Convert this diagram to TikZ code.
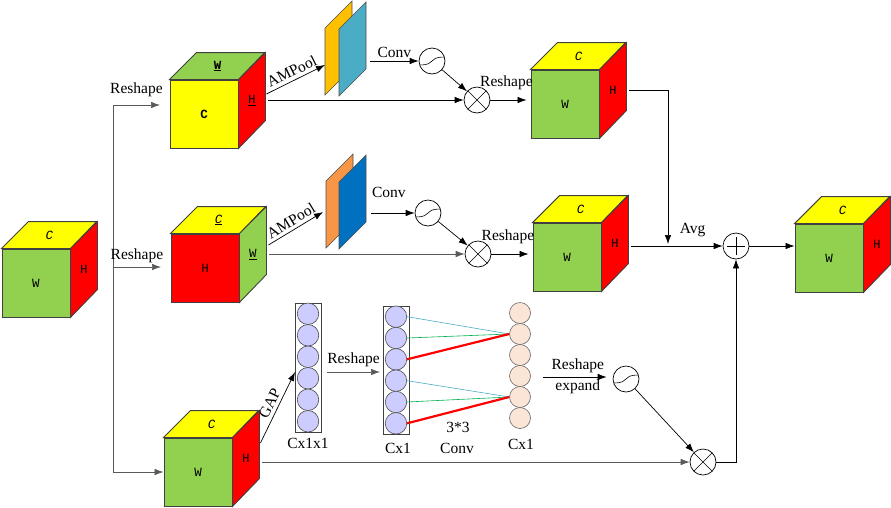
\documentclass[tikz,border=0pt]{standalone}
\usepackage{fontspec}
\setmainfont{Liberation Serif}
\newfontfamily\cubefont{Liberation Mono}
\usepackage{tikz}
\usetikzlibrary{arrows.meta}
\usepackage{xcolor}

\definecolor{cubeyellow}{HTML}{FFFF00}
\definecolor{cubered}{HTML}{FF0000}
\definecolor{cubegreen}{HTML}{92D050}
\definecolor{poolorange}{HTML}{FFC000}
\definecolor{poolteal}{HTML}{4BACC6}
\definecolor{poolpeach}{HTML}{F79646}
\definecolor{poolblue}{HTML}{0070C0}
\definecolor{cellblue}{HTML}{CCCCFF}
\definecolor{cellpeach}{HTML}{FBE5D6}
\definecolor{linkblue}{HTML}{4BACC6}
\definecolor{linkgreen}{HTML}{00B050}
\definecolor{linegray}{HTML}{595959}

\tikzset{
  face/.style={draw=black!75, line width=0.9pt},
  frontface/.style={face, minimum size=68pt, inner sep=0pt, font=\cubefont\fontsize{12.5}{12.5}\selectfont},
  cubetext/.style={font=\cubefont\fontsize{12.5}{12.5}\selectfont},
  arr/.style={-{Latex[length=9pt,width=6.5pt]}, line width=0.7pt},
  op/.style={circle, draw, line width=0.7pt, minimum size=26pt, inner sep=0pt},
  mul/.style={op, path picture={\draw[line width=0.6pt] (path picture bounding box.north west) -- (path picture bounding box.south east)
      (path picture bounding box.north east) -- (path picture bounding box.south west);}},
  plus/.style={op, path picture={\draw[line width=0.6pt] ([yshift=9pt]path picture bounding box.center) -- ([yshift=-9pt]path picture bounding box.center)
      ([xshift=-9pt]path picture bounding box.center) -- ([xshift=9pt]path picture bounding box.center);}},
  sigm/.style={op, path picture={\draw[line width=0.6pt] ([yshift=-4pt]path picture bounding box.west) .. controls +(19pt,0pt) and +(-19pt,0pt) .. ([yshift=4pt]path picture bounding box.east);}},
  cellb/.style={circle, draw=black!70, fill=cellblue, minimum size=21.5pt, inner sep=0pt, line width=0.6pt},
  cellp/.style={circle, draw=black!60, fill=cellpeach, minimum size=21pt, inner sep=0pt, line width=0.6pt},
  linkthin/.style={line width=0.6pt},
  linkthick/.style={line width=2.2pt, cubered}
}

% cube: name, front centre, front/top/side colours, front/top/side texts
\newcommand{\cube}[8]{%
  \node[frontface, fill=#3] (#1) at #2 {#6};
  \draw[face, fill=#4] (#1.north west) -- ++(27,-27) -- ++(68,0) -- (#1.north east) -- cycle;
  \draw[face, fill=#5] (#1.north east) -- ++(27,-27) -- ++(0,68) -- (#1.south east) -- cycle;
  \path (#1.north) ++(13.5,-13.5) node[cubetext] {#7};
  \path (#1.east) ++(13.5,-13.5) node[cubetext] {#8};
  \path (#1.east) ++(30,-13.5) coordinate (#1-s);
}
% feature plane: lower left corner, colour
\newcommand{\plane}[2]{\draw[draw=black!70, line width=0.6pt, fill=#2] #1 -- ++(0,-67) -- ++(27,-27) -- ++(0,67) -- cycle;}

\begin{document}
\begin{tikzpicture}[x=1pt, y=-1pt, font=\fontsize{15.5}{18}\selectfont]
\useasboundingbox (0,0) rectangle (891,507);

% cubes
\cube{src}{(36,283)}{cubegreen}{cubeyellow}{cubered}{W}{\textit{C}}{H}
\cube{top}{(204,114)}{cubeyellow}{cubegreen}{cubered}{\textbf{C}}{\underline{\textbf{W}}}{\underline{H}}
\cube{mid}{(205,268)}{cubered}{cubeyellow}{cubegreen}{H}{\underline{\textit{C}}}{\underline{W}}
\cube{bot}{(198,472)}{cubegreen}{cubeyellow}{cubered}{W}{\textit{C}}{H}
\cube{topout}{(565,104)}{cubegreen}{cubeyellow}{cubered}{W}{\textit{C}}{H}
\cube{midout}{(567,257)}{cubegreen}{cubeyellow}{cubered}{W}{\textit{C}}{H}
\cube{out}{(829,258)}{cubegreen}{cubeyellow}{cubered}{W}{\textit{C}}{H}

% reshape trunk
\coordinate (trunk top) at (113,105);
\coordinate (r1) at (160,105);
\coordinate (r2) at (161,267);
\draw[linegray, line width=0.9pt] (trunk top) -- (113,472);
\draw[arr, linegray] (trunk top) -- (r1) node[midway, above=5pt, black] {Reshape};
\draw[arr, linegray] (r2 -| trunk top) -- (r2) node[midway, above=1pt, black] {Reshape};
\draw[arr, linegray] (bot.west -| trunk top) -- (bot.west);

% pooled planes
\plane{(325,95)}{poolorange}
\plane{(339,96)}{poolteal}
\plane{(326,248)}{poolpeach}
\plane{(339,249)}{poolblue}

% operators
\node[sigm] (sig1) at (432,61) {};
\node[mul] (mul1) at (477,100) {};
\node[sigm] (sig2) at (428,213) {};
\node[mul] (mul2) at (478,254) {};
\node[sigm] (sig3) at (626,379) {};
\node[mul] (mul3) at (703,462) {};
\node[plus] (add) at (736,246) {};

% top branch
\coordinate (pool1-in) at (325,65);
\coordinate (pool1-out) at (370,61);
\draw[arr] ([shift={(-2,-6.5)}]top-s) -- (pool1-in) node[midway, sloped, above=0pt] {AMPool};
\draw[arr] (top-s |- mul1) -- (mul1);
\draw[arr] (pool1-out) -- (sig1) node[midway, above] {Conv};
\draw[arr] (sig1) -- (mul1);
\draw[arr, shorten >=4pt] (mul1) -- (mul1 -| topout.west) node[midway, above=7pt, xshift=-4pt] {Reshape};

% middle branch
\coordinate (pool2-in) at (323,212);
\coordinate (pool2-out) at (371,213);
\draw[arr] ([shift={(-1,-9.5)}]mid-s) -- (pool2-in) node[midway, sloped, above=0pt] {AMPool};
\draw[arr, linegray] (mid-s |- mul2) -- (mul2);
\draw[arr] (pool2-out) -- (sig2) node[midway, above=12pt, xshift=-4pt] {Conv};
\draw[arr] (sig2) -- (mul2);
\draw[arr, shorten >=4pt] (mul2) -- (mul2 -| midout.west) node[midway, above=7pt, xshift=-4pt] {Reshape};

% fusion
\coordinate (join) at (668,246);
\draw[arr, shorten >=2pt] (topout-s) -| (join);
\draw[arr] (midout-s |- add) -- (add) node[pos=0.67, above=5pt] {Avg};
\draw[arr] (add) -- (add -| out.west);
\draw[arr] (mul3) -| (add);

% bottom branch
\coordinate (gap-in) at (295,372);
\draw[arr] ([shift={(-2,-15.5)}]bot-s) -- (gap-in) node[midway, sloped, above=0pt] {GAP};
\draw[arr, linegray] (bot-s |- mul3) -- (mul3);

\draw[draw=black!75, line width=0.7pt] (295,303) rectangle (321,432);
\foreach \i in {1,...,6} \node[cellb] (p\i) at (308,{303+21.5*\i-10.75}) {};
\draw[draw=black!75, line width=0.7pt] (383,306) rectangle (409,434);
\foreach \i in {1,...,6} \node[cellb] (q\i) at (396,{306+21.33*\i-10.67}) {};
\foreach \i in {1,...,6} \node[cellp] (k\i) at (520,{302.5+21*\i-10.5}) {};

\coordinate (rs-a) at (327,372);
\coordinate (rs-b) at (380,372);
\draw[arr, linegray] (rs-a) -- (rs-b) node[midway, above=2pt, black] {Reshape};

\draw[linkthin, linkblue] (q1.east) -- (k2.west);
\draw[linkthin, linkgreen] (q2.east) -- (k2.west);
\draw[linkthick] (q3.east) -- (k2.west);
\draw[linkthin, linkblue] (q4.east) -- (k5.west);
\draw[linkthin, linkgreen] (q5.east) -- (k5.west);
\draw[linkthick] (q6.east) -- (k5.west);

\node (lab1) at (308,443) {Cx1x1};
\node (lab2) at (398,448) {Cx1};
\node (lab3) at (521,444) {Cx1};
\node (lab4) at (458,427) {3*3};
\node (lab5) at (457,448) {Conv};

\coordinate (ex-a) at (543,377);
\draw[arr, shorten >=6pt] (ex-a) -- (ex-a -| sig3.west) node[midway, above=1pt] {Reshape} node[midway, below=-1pt] {expand};
\draw[arr] (sig3) -- (mul3);

\end{tikzpicture}
\end{document}
